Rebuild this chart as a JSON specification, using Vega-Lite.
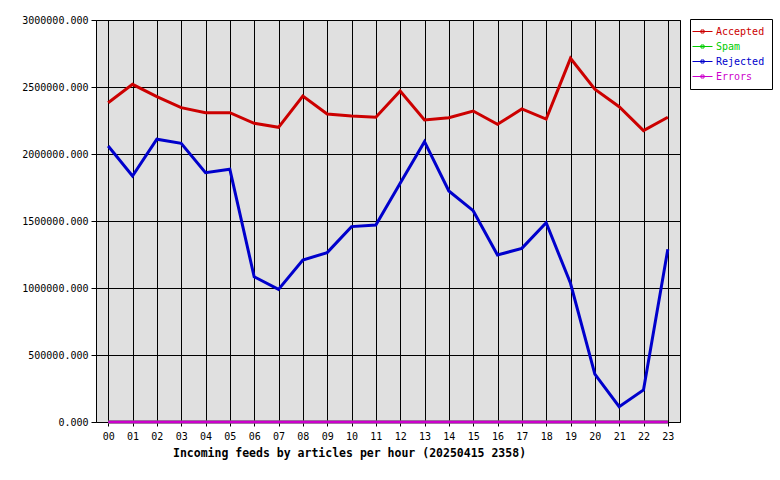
{
  "$schema": "https://vega.github.io/schema/vega-lite/v6.json",
  "width": 584,
  "height": 402,
  "autosize": {"type": "none"},
  "padding": {"left": 96, "top": 20, "right": 100, "bottom": 58},
  "background": "white",
  "config": {
    "view": {"fill": "#e0e0e0", "stroke": "black", "strokeWidth": 1},
    "axis": {
      "labelFont": "DejaVu Sans Mono",
      "labelFontSize": 10,
      "labelColor": "black",
      "grid": true,
      "gridColor": "black",
      "gridOpacity": 1,
      "gridWidth": 1,
      "tickColor": "black",
      "domain": false
    }
  },
  "data": {
    "values": [
      {"hour": "00", "series": "Accepted", "value": 2383000},
      {"hour": "01", "series": "Accepted", "value": 2520000},
      {"hour": "02", "series": "Accepted", "value": 2428000},
      {"hour": "03", "series": "Accepted", "value": 2346000},
      {"hour": "04", "series": "Accepted", "value": 2308000},
      {"hour": "05", "series": "Accepted", "value": 2308000},
      {"hour": "06", "series": "Accepted", "value": 2229000},
      {"hour": "07", "series": "Accepted", "value": 2199000},
      {"hour": "08", "series": "Accepted", "value": 2433000},
      {"hour": "09", "series": "Accepted", "value": 2299000},
      {"hour": "10", "series": "Accepted", "value": 2284000},
      {"hour": "11", "series": "Accepted", "value": 2274000},
      {"hour": "12", "series": "Accepted", "value": 2470000},
      {"hour": "13", "series": "Accepted", "value": 2254000},
      {"hour": "14", "series": "Accepted", "value": 2271000},
      {"hour": "15", "series": "Accepted", "value": 2321000},
      {"hour": "16", "series": "Accepted", "value": 2222000},
      {"hour": "17", "series": "Accepted", "value": 2336000},
      {"hour": "18", "series": "Accepted", "value": 2261000},
      {"hour": "19", "series": "Accepted", "value": 2714000},
      {"hour": "20", "series": "Accepted", "value": 2483000},
      {"hour": "21", "series": "Accepted", "value": 2353000},
      {"hour": "22", "series": "Accepted", "value": 2174000},
      {"hour": "23", "series": "Accepted", "value": 2274000},
      {"hour": "00", "series": "Spam", "value": 0},
      {"hour": "01", "series": "Spam", "value": 0},
      {"hour": "02", "series": "Spam", "value": 0},
      {"hour": "03", "series": "Spam", "value": 0},
      {"hour": "04", "series": "Spam", "value": 0},
      {"hour": "05", "series": "Spam", "value": 0},
      {"hour": "06", "series": "Spam", "value": 0},
      {"hour": "07", "series": "Spam", "value": 0},
      {"hour": "08", "series": "Spam", "value": 0},
      {"hour": "09", "series": "Spam", "value": 0},
      {"hour": "10", "series": "Spam", "value": 0},
      {"hour": "11", "series": "Spam", "value": 0},
      {"hour": "12", "series": "Spam", "value": 0},
      {"hour": "13", "series": "Spam", "value": 0},
      {"hour": "14", "series": "Spam", "value": 0},
      {"hour": "15", "series": "Spam", "value": 0},
      {"hour": "16", "series": "Spam", "value": 0},
      {"hour": "17", "series": "Spam", "value": 0},
      {"hour": "18", "series": "Spam", "value": 0},
      {"hour": "19", "series": "Spam", "value": 0},
      {"hour": "20", "series": "Spam", "value": 0},
      {"hour": "21", "series": "Spam", "value": 0},
      {"hour": "22", "series": "Spam", "value": 0},
      {"hour": "23", "series": "Spam", "value": 0},
      {"hour": "00", "series": "Rejected", "value": 2060000},
      {"hour": "01", "series": "Rejected", "value": 1836000},
      {"hour": "02", "series": "Rejected", "value": 2110000},
      {"hour": "03", "series": "Rejected", "value": 2080000},
      {"hour": "04", "series": "Rejected", "value": 1861000},
      {"hour": "05", "series": "Rejected", "value": 1886000},
      {"hour": "06", "series": "Rejected", "value": 1084000},
      {"hour": "07", "series": "Rejected", "value": 990000},
      {"hour": "08", "series": "Rejected", "value": 1209000},
      {"hour": "09", "series": "Rejected", "value": 1264000},
      {"hour": "10", "series": "Rejected", "value": 1458000},
      {"hour": "11", "series": "Rejected", "value": 1470000},
      {"hour": "12", "series": "Rejected", "value": 1781000},
      {"hour": "13", "series": "Rejected", "value": 2092000},
      {"hour": "14", "series": "Rejected", "value": 1724000},
      {"hour": "15", "series": "Rejected", "value": 1577000},
      {"hour": "16", "series": "Rejected", "value": 1246000},
      {"hour": "17", "series": "Rejected", "value": 1296000},
      {"hour": "18", "series": "Rejected", "value": 1487000},
      {"hour": "19", "series": "Rejected", "value": 1035000},
      {"hour": "20", "series": "Rejected", "value": 358000},
      {"hour": "21", "series": "Rejected", "value": 114000},
      {"hour": "22", "series": "Rejected", "value": 239000},
      {"hour": "23", "series": "Rejected", "value": 1289000},
      {"hour": "00", "series": "Errors", "value": 0},
      {"hour": "01", "series": "Errors", "value": 0},
      {"hour": "02", "series": "Errors", "value": 0},
      {"hour": "03", "series": "Errors", "value": 0},
      {"hour": "04", "series": "Errors", "value": 0},
      {"hour": "05", "series": "Errors", "value": 0},
      {"hour": "06", "series": "Errors", "value": 0},
      {"hour": "07", "series": "Errors", "value": 0},
      {"hour": "08", "series": "Errors", "value": 0},
      {"hour": "09", "series": "Errors", "value": 0},
      {"hour": "10", "series": "Errors", "value": 0},
      {"hour": "11", "series": "Errors", "value": 0},
      {"hour": "12", "series": "Errors", "value": 0},
      {"hour": "13", "series": "Errors", "value": 0},
      {"hour": "14", "series": "Errors", "value": 0},
      {"hour": "15", "series": "Errors", "value": 0},
      {"hour": "16", "series": "Errors", "value": 0},
      {"hour": "17", "series": "Errors", "value": 0},
      {"hour": "18", "series": "Errors", "value": 0},
      {"hour": "19", "series": "Errors", "value": 0},
      {"hour": "20", "series": "Errors", "value": 0},
      {"hour": "21", "series": "Errors", "value": 0},
      {"hour": "22", "series": "Errors", "value": 0},
      {"hour": "23", "series": "Errors", "value": 0}
    ]
  },
  "mark": {"type": "line", "strokeWidth": 3, "strokeJoin": "miter", "strokeCap": "butt"},
  "encoding": {
    "x": {
      "field": "hour",
      "type": "ordinal",
      "scale": {"type": "point", "padding": 0.5},
      "axis": {
        "labelAngle": 0,
        "grid": true,
        "tickSize": 4,
        "labelPadding": 5,
        "title": "Incoming feeds by articles per hour (20250415 2358)",
        "titleFont": "DejaVu Sans Mono",
        "titleFontSize": 11.5,
        "titleFontWeight": "bold",
        "titleColor": "black",
        "titleX": 253,
        "titleY": 31,
        "titleAlign": "center",
        "titleBaseline": "middle"
      }
    },
    "y": {
      "field": "value",
      "type": "quantitative",
      "scale": {"domain": [0, 3000000], "nice": false, "zero": true},
      "axis": {
        "values": [0, 500000, 1000000, 1500000, 2000000, 2500000, 3000000],
        "format": ".3f",
        "tickSize": 5,
        "labelPadding": 3,
        "title": null
      }
    },
    "color": {
      "field": "series",
      "type": "nominal",
      "sort": ["Accepted", "Spam", "Rejected", "Errors"],
      "scale": {
        "domain": ["Accepted", "Spam", "Rejected", "Errors"],
        "range": ["#cc0000", "#00cc00", "#0000cc", "#cc00cc"]
      },
      "legend": {
        "title": null,
        "orient": "none",
        "legendX": 594,
        "legendY": -1,
        "direction": "vertical",
        "fillColor": "white",
        "strokeColor": "black",
        "padding": 7,
        "rowPadding": 4,
        "labelFont": "DejaVu Sans Mono",
        "labelFontSize": 10,
        "labelOffset": 8,
        "symbolType": "M-2,0L2,0M-0.3,-0.3L0.3,-0.3L0.3,0.3L-0.3,0.3Z",
        "symbolSize": 100,
        "symbolStrokeWidth": 1,
        "symbolFillColor": "transparent",
        "encode": {
          "labels": {"update": {"fill": {"scale": "color", "field": "value"}}}
        }
      }
    }
  }
}
